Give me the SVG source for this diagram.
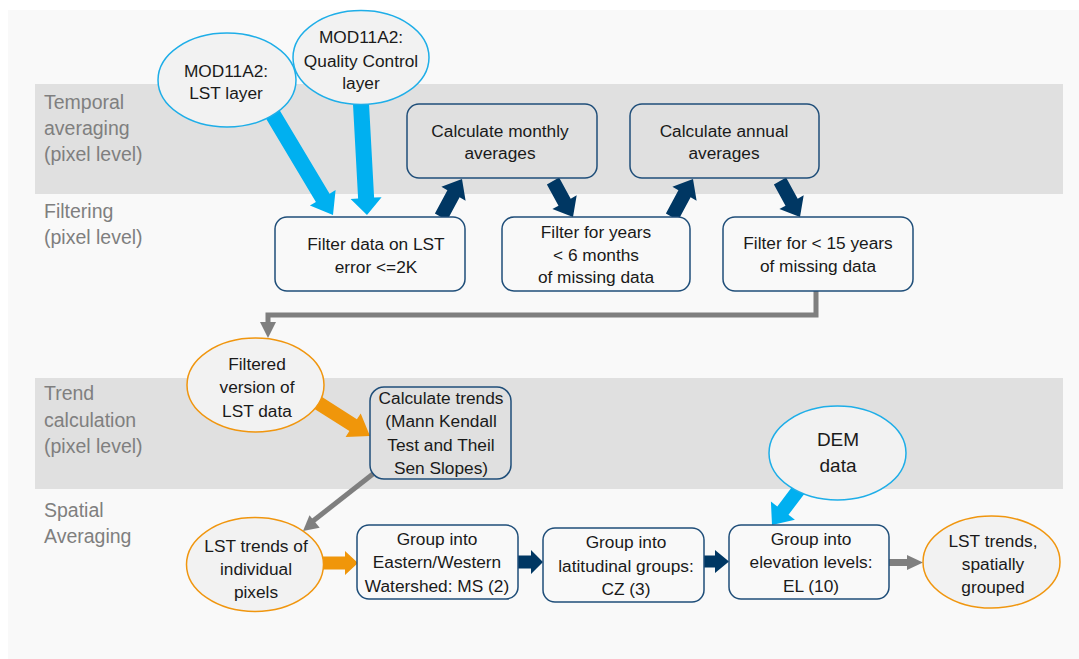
<svg xmlns="http://www.w3.org/2000/svg" width="1079" height="659" viewBox="0 0 1079 659">
<style>
.lbl{font-family:"Liberation Sans",Arial,sans-serif;font-size:19.5px;fill:#7f7f7f}
.t{font-family:"Liberation Sans",Arial,sans-serif;font-size:17.3px;fill:#1a1a1a;text-anchor:middle}
.big{font-size:19px}
.box{stroke:#1f4e79;stroke-width:1.5}
.inb{fill:#e0e0e0}
.outb{fill:#f9f9f9}
.eb{fill:#f2f2f2;stroke:#1eaee8;stroke-width:1.5}
.eo{fill:#f2f2f2;stroke:#f0960f;stroke-width:1.5}
.blue{fill:#00b0f0}
.dark{fill:#003763}
.orange{fill:#f0960a}
.gray{fill:#7f7f7f}
.gline{fill:none;stroke:#7f7f7f;stroke-width:5}
</style>
<rect x="0" y="0" width="1079" height="659" fill="#ffffff"/>
<rect x="8" y="10" width="1071" height="649" fill="#f9f9f9"/>
<rect x="35" y="84" width="1028" height="110" fill="#e0e0e0"/>
<rect x="35" y="378" width="1028" height="111" fill="#e0e0e0"/>
<g id="lanes">
<text class="lbl" x="44" y="109">Temporal</text>
<text class="lbl" x="44" y="135">averaging</text>
<text class="lbl" x="44" y="161">(pixel level)</text>
<text class="lbl" x="44" y="218">Filtering</text>
<text class="lbl" x="44" y="244">(pixel level)</text>
<text class="lbl" x="44" y="400">Trend</text>
<text class="lbl" x="44" y="427">calculation</text>
<text class="lbl" x="44" y="453">(pixel level)</text>
<text class="lbl" x="44" y="517">Spatial</text>
<text class="lbl" x="44" y="543">Averaging</text>
</g>
<g id="connectors">
<polygon class="blue" points="265.1,117.1 315.9,201.9 309.9,205.5 333,215 335.6,190.1 329.6,193.7 278.9,108.9"/>
<polygon class="blue" points="353,104.4 358.1,198.5 350.6,198.9 367,215 381.6,197.2 374.1,197.6 369,103.6"/>
<polygon class="dark" points="447.1,220.5 459.6,197.2 465.6,200.7 462,179 441.4,186.7 447.4,190.2 434.9,213.5"/>
<polygon class="dark" points="546.9,184.5 558.5,205.7 552.4,209.1 573,217 576.7,195.3 570.7,198.7 559.1,177.5"/>
<polygon class="dark" points="678.1,220.5 690.6,197.2 696.6,200.7 693,179 672.4,186.7 678.4,190.2 665.9,213.5"/>
<polygon class="dark" points="773.9,184.5 785.5,205.7 779.4,209.1 800,217 803.7,195.3 797.7,198.7 786.1,177.5"/>
<path class="gline" d="M816,291 V315 H268 V324"/>
<polygon class="gray" points="260,322 276,322 268,338"/>
<polygon class="orange" points="308.2,404.9 349.4,431.1 345.6,437 370,436 360.7,413.4 356.9,419.3 315.8,393.1"/>
<path class="gline" d="M378,470 L313,521"/>
<polygon class="gray" points="309.5,515.3 319.7,527.7 303,531"/>
<polygon class="orange" points="318,556.5 345,556.5 345,551 358,563 345,575 345,569.5 318,569.5"/>
<polygon class="dark" points="516,555.5 531,555.5 531,550 543,562 531,574 531,568.5 516,568.5"/>
<polygon class="dark" points="703,555.5 715,555.5 715,550 729,561.5 715,573 715,567.5 703,567.5"/>
<polygon class="blue" points="797.4,479.8 777.3,506.4 770.9,501.6 772,525 794.9,519.7 788.5,514.8 808.6,488.2"/>
<polygon class="gray" points="889,559 907,559 907,555 923,562.5 907,570 907,566 889,566"/>
</g>
<g id="n-lst-layer">
<ellipse class="eb" cx="227" cy="80" rx="69" ry="47"/>
<text class="t" x="226" y="77">MOD11A2:</text>
<text class="t" x="226" y="99">LST layer</text>
</g>
<g id="n-qc-layer">
<ellipse class="eb" cx="361" cy="57.5" rx="68" ry="47"/>
<text class="t" x="361" y="43">MOD11A2:</text>
<text class="t" x="361" y="66.5">Quality Control</text>
<text class="t" x="361" y="89">layer</text>
</g>
<g id="n-monthly">
<rect class="box inb" x="407" y="104" width="190" height="74" rx="12"/>
<text class="t" x="500" y="137">Calculate monthly</text>
<text class="t" x="500" y="159">averages</text>
</g>
<g id="n-annual">
<rect class="box inb" x="630" y="104" width="189" height="74" rx="12"/>
<text class="t" x="724" y="137">Calculate annual</text>
<text class="t" x="724" y="159">averages</text>
</g>
<g id="n-filter-lst">
<rect class="box outb" x="275" y="217" width="190" height="74" rx="12"/>
<text class="t" x="376" y="250">Filter data on LST</text>
<text class="t" x="376" y="273">error &lt;=2K</text>
</g>
<g id="n-filter-years">
<rect class="box outb" x="502" y="217" width="188" height="74" rx="12"/>
<text class="t" x="596" y="238">Filter for years</text>
<text class="t" x="596" y="261">&lt; 6 months</text>
<text class="t" x="596" y="283">of missing data</text>
</g>
<g id="n-filter-15">
<rect class="box outb" x="723" y="217" width="190" height="74" rx="12"/>
<text class="t" x="818" y="249">Filter for &lt; 15 years</text>
<text class="t" x="818" y="272">of missing data</text>
</g>
<g id="n-filtered">
<ellipse class="eo" cx="255.5" cy="385" rx="68.5" ry="47"/>
<text class="t" x="257" y="370">Filtered</text>
<text class="t" x="257" y="393">version of</text>
<text class="t" x="257" y="417">LST data</text>
</g>
<g id="n-trends">
<rect class="box inb" x="370" y="387" width="141" height="92" rx="14"/>
<text class="t" x="441" y="404">Calculate trends</text>
<text class="t" x="441" y="427">(Mann Kendall</text>
<text class="t" x="441" y="451">Test and Theil</text>
<text class="t" x="441" y="474">Sen Slopes)</text>
</g>
<g id="n-dem">
<ellipse class="eb" cx="837.5" cy="453" rx="68.5" ry="47"/>
<text class="t big" x="838" y="446">DEM</text>
<text class="t big" x="838" y="472">data</text>
</g>
<g id="n-lst-trends">
<ellipse class="eo" cx="255" cy="564.5" rx="68.5" ry="47"/>
<text class="t" x="256" y="552">LST trends of</text>
<text class="t" x="256" y="575">individual</text>
<text class="t" x="256" y="598">pixels</text>
</g>
<g id="n-ew">
<rect class="box outb" x="357" y="525" width="161" height="74" rx="12"/>
<text class="t" x="437" y="545">Group into</text>
<text class="t" x="437" y="568">Eastern/Western</text>
<text class="t" x="437" y="592">Watershed: MS (2)</text>
</g>
<g id="n-lat">
<rect class="box outb" x="543" y="528" width="161" height="74" rx="12"/>
<text class="t" x="626" y="548">Group into</text>
<text class="t" x="626" y="572">latitudinal groups:</text>
<text class="t" x="626" y="595">CZ (3)</text>
</g>
<g id="n-elev">
<rect class="box outb" x="729" y="525" width="160" height="74" rx="12"/>
<text class="t" x="811" y="545">Group into</text>
<text class="t" x="811" y="568">elevation levels:</text>
<text class="t" x="811" y="592">EL (10)</text>
</g>
<g id="n-spatial">
<ellipse class="eo" cx="991.5" cy="562" rx="68.5" ry="46"/>
<text class="t" x="993" y="547">LST trends,</text>
<text class="t" x="993" y="570">spatially</text>
<text class="t" x="993" y="593">grouped</text>
</g>
</svg>
